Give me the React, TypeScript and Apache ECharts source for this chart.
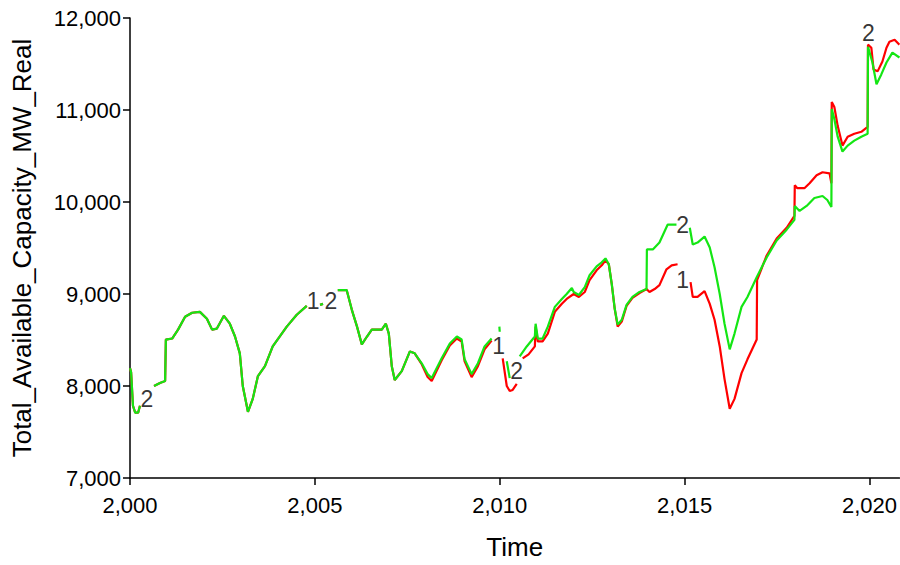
import React, { useEffect, useRef } from 'react';
import * as echarts from 'echarts';

type Pt = [number, number] | null;

// Shared history (runs 1 and 2 coincide), null = break in the line
const sharedEarly: Pt[] = [
  [2000.0, 8194], [2000.03, 8150], [2000.08, 7785], [2000.14, 7710], [2000.22, 7710], [2000.27, 7785],
  null,
  [2000.65, 8000], [2000.81, 8032], [2000.95, 8054], [2000.97, 8505], [2001.14, 8516], [2001.3, 8613],
  [2001.49, 8753], [2001.68, 8796], [2001.89, 8806], [2002.08, 8731], [2002.22, 8613], [2002.35, 8624],
  [2002.54, 8763], [2002.7, 8677], [2002.84, 8538], [2002.97, 8355], [2003.05, 8000], [2003.19, 7720],
  [2003.32, 7860], [2003.46, 8108], [2003.65, 8215], [2003.86, 8430], [2004.24, 8645], [2004.51, 8774],
  [2004.78, 8871],
  null,
  [2005.14, 8882], [2005.22, 8893],
  null,
  [2005.62, 9043], [2005.86, 9043], [2006.0, 8828], [2006.14, 8645], [2006.27, 8452], [2006.41, 8538],
  [2006.54, 8613], [2006.81, 8613], [2006.92, 8677], [2007.0, 8570], [2007.08, 8215], [2007.16, 8065],
  [2007.35, 8161], [2007.57, 8376], [2007.7, 8355],
];

const greenTail: Pt[] = [
  [2007.89, 8247], [2008.05, 8129], [2008.16, 8086], [2008.43, 8301], [2008.65, 8462], [2008.84, 8538],
  [2008.97, 8505], [2009.05, 8290], [2009.24, 8129], [2009.41, 8247], [2009.59, 8430], [2009.78, 8516],
  null,
  [2009.99, 8645], [2010.0, 8590],
  null,
  [2010.19, 8269], [2010.27, 8086],
  null,
  [2010.54, 8323], [2010.73, 8430], [2010.95, 8538], [2010.97, 8677], [2011.03, 8516], [2011.16, 8516],
  [2011.3, 8645], [2011.49, 8860], [2011.68, 8946], [2011.81, 9000], [2011.95, 9065], [2012.0, 9022],
  [2012.14, 8989], [2012.3, 9075], [2012.43, 9204], [2012.62, 9301], [2012.76, 9344], [2012.86, 9387],
  [2012.95, 9323], [2013.03, 9108], [2013.11, 8839], [2013.19, 8667], [2013.3, 8720], [2013.43, 8882],
  [2013.59, 8968], [2013.78, 9022], [2013.97, 9054], [2013.98, 9484], [2014.14, 9484], [2014.32, 9559],
  [2014.54, 9753], [2014.78, 9753],
  null,
  [2015.14, 9720], [2015.22, 9538], [2015.35, 9559], [2015.54, 9624], [2015.68, 9505], [2015.81, 9290],
  [2015.95, 9000], [2016.08, 8677], [2016.22, 8398], [2016.35, 8570], [2016.54, 8860], [2016.7, 8968],
  [2016.95, 9183], [2017.22, 9398], [2017.49, 9581], [2017.76, 9699], [2017.97, 9806], [2017.98, 9957],
  [2018.11, 9903], [2018.3, 9957], [2018.51, 10043], [2018.73, 10065], [2018.86, 10022], [2018.97, 9946],
  [2018.98, 11011], [2019.05, 10903], [2019.14, 10710], [2019.27, 10548], [2019.41, 10613], [2019.59, 10667],
  [2019.78, 10710], [2019.95, 10742], [2019.96, 11688], [2020.08, 11516], [2020.19, 11280], [2020.32, 11387],
  [2020.46, 11516], [2020.62, 11624], [2020.81, 11570],
];

const redTail: Pt[] = [
  [2007.89, 8237], [2008.05, 8097], [2008.16, 8054], [2008.43, 8280], [2008.65, 8441], [2008.84, 8516],
  [2008.97, 8484], [2009.05, 8269], [2009.24, 8097], [2009.41, 8215], [2009.59, 8398], [2009.78, 8495],
  null,
  [2010.08, 8301], [2010.19, 8000], [2010.27, 7946], [2010.35, 7957], [2010.46, 8022],
  null,
  [2010.62, 8301], [2010.78, 8344], [2010.95, 8430], [2010.97, 8645], [2011.03, 8484], [2011.16, 8484],
  [2011.3, 8570], [2011.49, 8806], [2011.68, 8893], [2011.81, 8946], [2012.0, 9000], [2012.14, 8968],
  [2012.3, 9022], [2012.43, 9150], [2012.62, 9258], [2012.76, 9312], [2012.86, 9366], [2012.95, 9323],
  [2013.03, 9108], [2013.11, 8839], [2013.19, 8645], [2013.3, 8700], [2013.43, 8870], [2013.59, 8958],
  [2013.78, 9011], [2013.97, 9054], [2014.05, 9022], [2014.19, 9054], [2014.32, 9097], [2014.51, 9269],
  [2014.65, 9312], [2014.81, 9323],
  null,
  [2015.16, 9129], [2015.22, 8968], [2015.35, 8968], [2015.54, 9032], [2015.68, 8892], [2015.81, 8720],
  [2015.95, 8430], [2016.08, 8075], [2016.22, 7753], [2016.35, 7860], [2016.54, 8140], [2016.7, 8290],
  [2016.95, 8505], [2016.96, 9150], [2017.22, 9419], [2017.49, 9602], [2017.76, 9720], [2017.97, 9849],
  [2017.98, 10183], [2018.05, 10150], [2018.24, 10150], [2018.38, 10204], [2018.57, 10290], [2018.73, 10323],
  [2018.92, 10312], [2018.97, 10204], [2018.98, 11086], [2019.05, 11032], [2019.14, 10828], [2019.27, 10613],
  [2019.41, 10710], [2019.59, 10742], [2019.78, 10763], [2019.95, 10817], [2019.96, 11710], [2020.05, 11677],
  [2020.11, 11441], [2020.22, 11420], [2020.35, 11527], [2020.46, 11677], [2020.54, 11742], [2020.68, 11763],
  [2020.81, 11710],
];

// Run identifiers drawn on the lines
const markerTexts = ['2', '1', '2', '1', '2', '2', '1', '2'];
const markerYears = [2000.46, 2004.95, 2005.43, 2009.97, 2010.46, 2014.95, 2014.95, 2019.97];
const markerValues = [7860, 8925, 8925, 8430, 8161, 9753, 9150, 11839];

const X_MIN = 2000;
const X_MAX = 2020.81;
const Y_MIN = 7000;
const Y_MAX = 12000;

const FONT = '"Liberation Sans", Arial, sans-serif';

const toData = (pts: Pt[]) => pts.map((p) => (p === null ? ['-', '-'] : p));

export default function App() {
  const ref = useRef<HTMLDivElement>(null);
  useEffect(() => {
    if (!ref.current) return;
    const chart = echarts.init(ref.current, undefined, { renderer: 'svg' });
    const fmt = (v: number) => v.toLocaleString('en-US');
    chart.setOption({
      animation: false,
      backgroundColor: '#fff',
      textStyle: { fontFamily: FONT },
      grid: { left: 130, right: 0, top: 18, bottom: 82, containLabel: false },
      xAxis: {
        type: 'value',
        min: X_MIN,
        max: X_MAX,
        interval: 5,
        name: 'Time',
        nameLocation: 'middle',
        nameGap: 56,
        nameTextStyle: { fontSize: 26, color: '#000', fontFamily: FONT },
        axisLine: { lineStyle: { color: '#000', width: 1.5 } },
        axisTick: { show: true, length: 7, lineStyle: { color: '#000', width: 1.5 } },
        axisLabel: {
          color: '#000',
          fontSize: 22,
          fontFamily: FONT,
          margin: 16,
          showMaxLabel: false,
          formatter: (v: number) => (Math.abs(v % 5) < 1e-6 ? fmt(v) : ''),
        },
        splitLine: { show: false },
      },
      yAxis: {
        type: 'value',
        min: Y_MIN,
        max: Y_MAX,
        interval: 1000,
        name: 'Total_Available_Capacity_MW_Real',
        nameLocation: 'middle',
        nameGap: 95,
        nameTextStyle: { fontSize: 26, color: '#000', fontFamily: FONT },
        axisLine: { show: true, lineStyle: { color: '#000', width: 1.5 } },
        axisTick: { show: true, length: 7, lineStyle: { color: '#000', width: 1.5 } },
        axisLabel: { color: '#000', fontSize: 22, fontFamily: FONT, margin: 9, formatter: fmt },
        splitLine: { show: false },
      },
      series: [
        {
          name: '1',
          type: 'line',
          data: toData([...sharedEarly, ...redTail]),
          showSymbol: false,
          connectNulls: false,
          lineStyle: { color: '#ff0000', width: 2.2 },
          itemStyle: { color: '#ff0000' },
          z: 2,
        },
        {
          name: '2',
          type: 'line',
          data: toData([...sharedEarly, ...greenTail]),
          showSymbol: false,
          connectNulls: false,
          lineStyle: { color: '#14e614', width: 2.2 },
          itemStyle: { color: '#14e614' },
          z: 3,
        },
        {
          type: 'scatter',
          z: 10,
          symbol: 'circle',
          symbolSize: 1,
          itemStyle: { color: 'rgba(0,0,0,0)' },
          silent: true,
          data: markerYears.map((x, i) => [x, markerValues[i], markerTexts[i]]),
          label: {
            show: true,
            position: 'inside',
            formatter: (p: any) => p.value[2],
            color: '#000',
            fontSize: 23,
            fontFamily: FONT,
          },
        },
      ],
    });
    return () => chart.dispose();
  }, []);
  return (
    <div
      ref={ref}
      style={{ position: 'fixed', left: 0, top: 0, width: 900, height: 565, background: '#fff' }}
    />
  );
}
